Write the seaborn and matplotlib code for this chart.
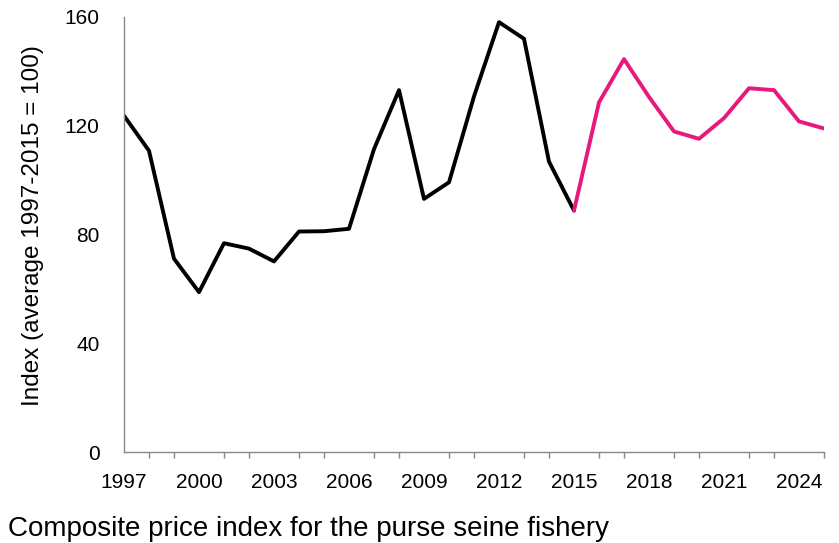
import matplotlib
matplotlib.use("Agg")
import matplotlib.pyplot as plt
import seaborn as sns
import pandas as pd
from matplotlib.ticker import MultipleLocator

hist_years = list(range(1997, 2016))
hist_values = [123.7, 110.8, 71.1, 58.8, 76.8, 74.8, 70.1, 81.1, 81.2, 82.1,
               111.4, 133.1, 93.1, 99.2, 130.8, 158.1, 152.0, 106.8, 88.8]
proj_years = list(range(2015, 2026))
proj_values = [88.8, 128.6, 144.5, 130.6, 117.9, 115.2, 122.8, 133.8, 133.1, 121.6, 119.0]
y_ticks = [0, 40, 80, 120, 160]
x_ticks = list(range(1997, 2026, 3))

df = pd.concat([
    pd.DataFrame({"year": hist_years, "value": hist_values, "seg": "hist"}),
    pd.DataFrame({"year": proj_years, "value": proj_values, "seg": "proj"}),
])

sns.set_theme(style="white")
plt.rcParams["font.family"] = ["Liberation Sans", "DejaVu Sans"]
plt.rcParams["text.color"] = "black"

fig = plt.figure(figsize=(8.39, 5.43), dpi=100)
ax = fig.add_axes([124/839, 1-452/543, 700/839, 435/543])
sns.lineplot(data=df, x="year", y="value", hue="seg",
             palette={"hist": "black", "proj": "#E8197D"},
             linewidth=2.8, legend=False, ax=ax)

ax.set_xlim(1997, 2025)
ax.set_ylim(0, 160)
ax.set_yticks(y_ticks)
ax.set_xticks(x_ticks)
ax.xaxis.set_minor_locator(MultipleLocator(1))
for s in ["top", "right"]:
    ax.spines[s].set_visible(False)
for s in ["left", "bottom"]:
    ax.spines[s].set_color("#888888")
    ax.spines[s].set_linewidth(1.0)
ax.tick_params(axis="both", which="both", direction="out", color="#888888",
               labelsize=15, labelcolor="black")
ax.tick_params(axis="y", length=4.5, width=1, pad=13)
ax.tick_params(axis="x", which="major", length=4, width=1, pad=11)
ax.tick_params(axis="x", which="minor", length=4, width=1, bottom=True)
ax.set_xlabel("")
ax.set_ylabel("")
ax.grid(False)
fig.text(33/839, 1-226/543, "Index (average 1997-2015 = 100)", rotation=90,
         fontsize=17.5, ha="center", va="center", color="black")
fig.text(8/839, 1-536/543, "Composite price index for the purse seine fishery",
         fontsize=20, ha="left", va="baseline", color="black")

fig.savefig("out.png", dpi=100)
